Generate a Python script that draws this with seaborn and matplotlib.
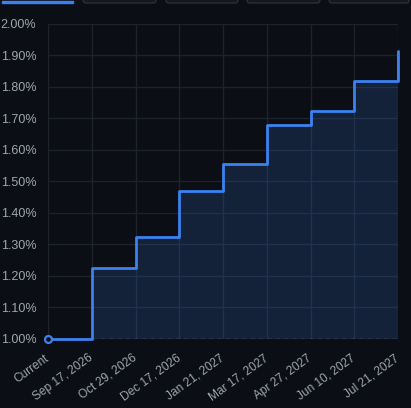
import numpy as np
import pandas as pd
import seaborn as sns
import matplotlib.pyplot as plt
from matplotlib.patches import FancyBboxPatch, Rectangle

dates = ["Current", "Sep 17, 2026", "Oct 29, 2026", "Dec 17, 2026", "Jan 21, 2027",
         "Mar 17, 2027", "Apr 27, 2027", "Jun 10, 2027", "Jul 21, 2027"]
rates = [1.00, 1.225, 1.323, 1.470, 1.555, 1.679, 1.723, 1.819, 1.913]
y_ticks = [1.00, 1.10, 1.20, 1.30, 1.40, 1.50, 1.60, 1.70, 1.80, 1.90, 2.00]

bg = "#0b0e14"
line_col = "#3b82f0"
grid_col = "#1d222c"
text_col = "#a0a6b0"

df = pd.DataFrame({"pos": np.arange(len(dates)), "rate": rates, "date": dates})

sns.set_style("dark")
plt.rcParams["font.family"] = ["Liberation Sans", "DejaVu Sans"]

fig = plt.figure(figsize=(4.11, 4.08), dpi=100, facecolor=bg)
W, H = 411, 408
ax = fig.add_axes([48 / W, 1 - 338.8 / H, 350 / W, 314.8 / H])
ax.set_facecolor(bg)

ax.fill_between(df["pos"], 1.0, df["rate"], step="post", color=line_col, alpha=0.17,
                lw=0, zorder=1)
ax.plot([1, len(dates) - 1], [1.0, 1.0], ls=(0, (3, 3)), color="#6b7280", lw=1, zorder=2)
sns.lineplot(data=df, x="pos", y="rate", drawstyle="steps-post", color=line_col,
             lw=2, ax=ax, zorder=3, clip_on=False)
ax.plot([len(dates) - 1, len(dates) - 1], [rates[-2], rates[-1]], color=line_col,
        lw=2, zorder=3, solid_capstyle="butt")
ax.plot(0, rates[0], "o", ms=5, mfc=bg, mec=line_col, mew=1.6, zorder=4, clip_on=False)

ax.set_xlim(0, len(dates) - 1)
ax.set_ylim(1.0, 2.0)
ax.set_xticks(df["pos"])
ax.set_xticklabels(dates, rotation=36, ha="right", va="center", rotation_mode="anchor")
ax.set_yticks(y_ticks)
ax.set_yticklabels([f"{v:.2f}%" for v in y_ticks])
ax.set_xlabel("")
ax.set_ylabel("")
ax.grid(True, color=grid_col, lw=1)
for s in ax.spines.values():
    s.set_visible(False)
ax.tick_params(axis="x", colors=text_col, labelsize=8.6, length=6, width=1,
               color=grid_col, pad=7)
ax.tick_params(axis="y", colors=text_col, labelsize=9, length=0, pad=8.5)

# tab strip at top
fig.patches.append(Rectangle((2 / W, 1 - 3 / H), 71 / W, 2.5 / H, transform=fig.transFigure,
                             color=line_col, zorder=5))
for x0, x1 in [(83, 156), (166, 238), (247, 320), (329, 409)]:
    fig.patches.append(FancyBboxPatch((x0 / W, 1 - 3 / H), (x1 - x0) / W, 10 / H,
                                      boxstyle="round,pad=0,rounding_size=0.008",
                                      transform=fig.transFigure, facecolor="#15181e",
                                      edgecolor="#2b2f36", lw=1, zorder=5))

fig.savefig("out.png", dpi=100, facecolor=bg)
